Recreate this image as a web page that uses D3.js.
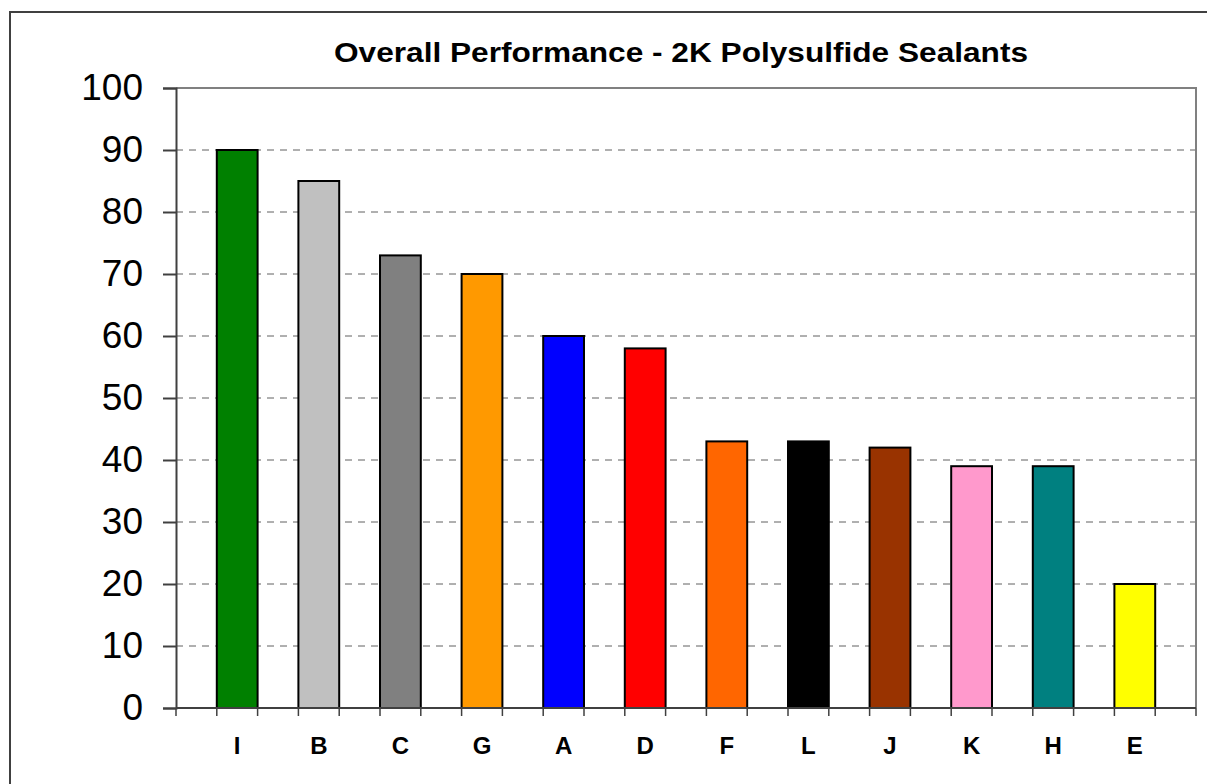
<!DOCTYPE html>
<html>
  <head>
    <style>
      body { margin: 0; background: #fff; }
      svg { display: block; font-family: "Liberation Sans", Arial, sans-serif; }
    </style>
  </head>
  <body>
    <script src="https://d3js.org/d3.v7.min.js"></script>
    <div id="chart"></div>
    <script>
      // Data
      var categories = ["I", "B", "C", "G", "A", "D", "F", "L", "J", "K", "H", "E"];
      var values = [90, 85, 73, 70, 60, 58, 43, 43, 42, 39, 39, 20];
      var barColors = ["#008000", "#c0c0c0", "#808080", "#ff9900", "#0000ff", "#ff0000",
                       "#ff6600", "#000000", "#993300", "#ff99cc", "#008080", "#ffff00"];
      var yTicks = [0, 10, 20, 30, 40, 50, 60, 70, 80, 90, 100];
      var title = "Overall Performance - 2K Polysulfide Sealants";

      var W = 1207, H = 784;
      var plot = {left: 176, top: 88, right: 1196, bottom: 708};

      var svg = d3.select("#chart").append("svg")
          .attr("width", W)
          .attr("height", H);

      // Outer chart frame (runs off the right and bottom edges)
      svg.append("rect")
          .attr("x", 10).attr("y", 12)
          .attr("width", W + 20).attr("height", H + 20)
          .attr("fill", "#fff")
          .attr("stroke", "#404040")
          .attr("stroke-width", 2);

      // Scales
      var x = d3.scaleBand()
          .domain(categories)
          .range([plot.left, plot.right])
          .paddingInner(0.5)
          .paddingOuter(0.5);
      var y = d3.scaleLinear()
          .domain([0, 100])
          .range([plot.bottom, plot.top]);

      // Dashed gridlines
      svg.append("g")
        .selectAll("line")
          .data(yTicks.filter(function(d) { return d > 0 && d < 100; }))
        .enter().append("line")
          .attr("x1", plot.left).attr("x2", plot.right)
          .attr("y1", function(d) { return y(d); })
          .attr("y2", function(d) { return y(d); })
          .attr("stroke", "#606060")
          .attr("stroke-width", 1)
          .attr("stroke-dasharray", "7,6");

      // Plot area border (top / right)
      svg.append("path")
          .attr("d", "M" + plot.left + "," + y(100) + "H" + plot.right + "V" + plot.bottom)
          .attr("fill", "none")
          .attr("stroke", "#808080")
          .attr("stroke-width", 2);

      // Bars
      svg.selectAll(".bar")
          .data(values)
        .enter().append("rect")
          .attr("class", "bar")
          .attr("x", function(d, i) { return x(categories[i]); })
          .attr("width", x.bandwidth())
          .attr("y", function(d) { return y(d); })
          .attr("height", function(d) { return y(0) - y(d); })
          .attr("fill", function(d, i) { return barColors[i]; })
          .attr("stroke", "#000")
          .attr("stroke-width", 2);

      // Y axis
      var yAxis = d3.axisLeft(y)
          .tickValues(yTicks)
          .tickSize(13)
          .tickPadding(20);
      var gy = svg.append("g")
          .attr("transform", "translate(" + plot.left + ",0)")
          .call(yAxis);
      gy.select(".domain").attr("stroke", "#404040").attr("stroke-width", 2);
      gy.selectAll(".tick line").attr("stroke", "#404040").attr("stroke-width", 2);
      gy.selectAll(".tick text")
          .attr("fill", "#000")
          .style("font-size", "37px")
          .style("font-family", "'Liberation Sans', Arial, sans-serif");

      // X axis: ticks at every bar edge and at the plot ends
      var half = x.step() / 2;
      var xTickPos = d3.range(categories.length * 2 + 2).map(function(i) { return plot.left + i * half; });
      svg.append("line")
          .attr("x1", plot.left).attr("x2", plot.right)
          .attr("y1", plot.bottom).attr("y2", plot.bottom)
          .attr("stroke", "#404040")
          .attr("stroke-width", 2);
      svg.append("g")
        .selectAll("line")
          .data(xTickPos)
        .enter().append("line")
          .attr("x1", function(d) { return d; }).attr("x2", function(d) { return d; })
          .attr("y1", plot.bottom).attr("y2", plot.bottom + 8)
          .attr("stroke", "#404040")
          .attr("stroke-width", 1.5);

      svg.append("g")
        .selectAll("text")
          .data(categories)
        .enter().append("text")
          .attr("x", function(d) { return x(d) + x.bandwidth() / 2; })
          .attr("y", 754)
          .attr("text-anchor", "middle")
          .style("font-size", "24px")
          .style("font-weight", "bold")
          .text(function(d) { return d; });

      // Title
      svg.append("text")
          .attr("x", 681)
          .attr("y", 62)
          .attr("text-anchor", "middle")
          .attr("textLength", 694)
          .attr("lengthAdjust", "spacingAndGlyphs")
          .style("font-size", "27px")
          .style("font-weight", "bold")
          .text(title);
    </script>
  </body>
</html>
